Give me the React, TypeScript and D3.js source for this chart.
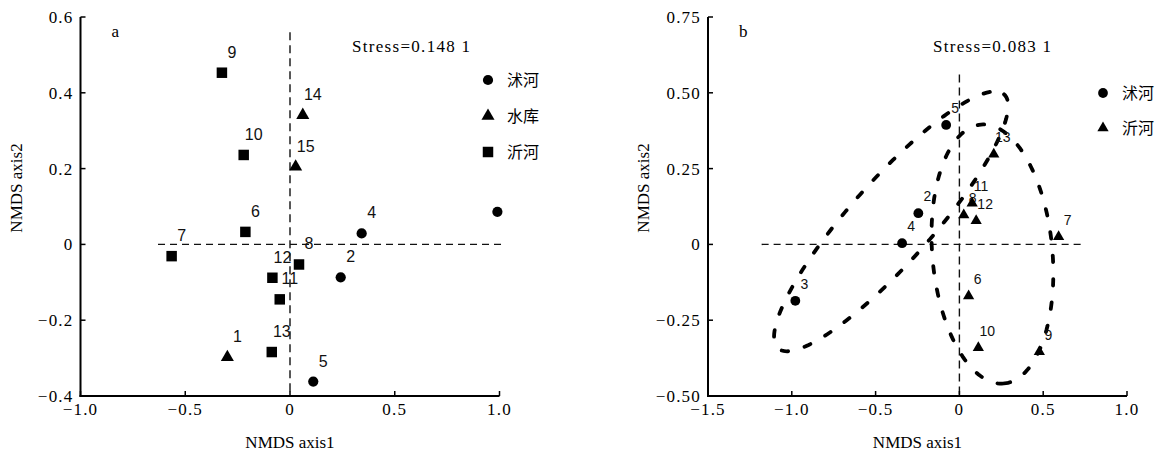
import React from 'react'
import * as d3 from 'd3'

// ---- panel a ----
const siteA = ['', '4', '2', '5', '1', '14', '15', '9', '10', '6', '7', '8', '12', '11', '13']
const groupA = ['沭河', '沭河', '沭河', '沭河', '水库', '水库', '水库', '沂河', '沂河', '沂河', '沂河', '沂河', '沂河', '沂河', '沂河']
const axis1A = [0.99, 0.342, 0.242, 0.111, -0.299, 0.061, 0.027, -0.325, -0.221, -0.213, -0.565, 0.043, -0.084, -0.049, -0.087]
const axis2A = [0.086, 0.029, -0.087, -0.362, -0.298, 0.341, 0.205, 0.453, 0.236, 0.033, -0.031, -0.053, -0.088, -0.145, -0.284]
const xTicksA = [-1, -0.5, 0, 0.5, 1]
const xTickLabelsA = ['−1.0', '−0.5', '0', '0.5', '1.0']
const yTicksA = [-0.4, -0.2, 0, 0.2, 0.4, 0.6]
const yTickLabelsA = ['−0.4', '−0.2', '0', '0.2', '0.4', '0.6']
const legendA = ['沭河', '水库', '沂河']

// ---- panel b ----
const siteB = ['2', '3', '4', '5', '6', '7', '8', '9', '10', '11', '12', '13']
const groupB = ['沭河', '沭河', '沭河', '沭河', '沂河', '沂河', '沂河', '沂河', '沂河', '沂河', '沂河', '沂河']
const axis1B = [-0.245, -0.979, -0.342, -0.079, 0.055, 0.592, 0.026, 0.477, 0.113, 0.076, 0.1, 0.205]
const axis2B = [0.103, -0.186, 0.004, 0.394, -0.17, 0.025, 0.097, -0.354, -0.341, 0.136, 0.078, 0.297]
const xTicksB = [-1.5, -1, -0.5, 0, 0.5, 1]
const xTickLabelsB = ['−1.5', '−1.0', '−0.5', '0', '0.5', '1.0']
const yTicksB = [-0.5, -0.25, 0, 0.25, 0.5, 0.75]
const yTickLabelsB = ['−0.50', '−0.25', '0', '0.25', '0.50', '0.75']
const legendB = ['沭河', '沂河']

// group ellipses in panel b (data units): centre + two semi-axis vectors
const ellCx = [-0.4075, 0.197]
const ellCy = [0.076, -0.0317]
const ellA = [[0.674, 0.419], [0.068, -0.427]]
const ellB = [[0.183, -0.0897], [0.357, 0.0175]]

const SHAPES: Record<string, d3.SymbolType> = {
  '沭河': d3.symbolCircle,
  '水库': d3.symbolTriangle,
  '沂河': d3.symbolSquare,
}

const SERIF = '"Liberation Serif", "DejaVu Serif", serif'
const SANS = '"Liberation Sans", Arial, sans-serif'
const CJK = '"Noto Sans CJK SC", sans-serif'

function symbolPath(group: string, shapes: Record<string, d3.SymbolType>, small: boolean) {
  const type = shapes[group]
  let size = 80
  if (type === d3.symbolTriangle) size = small ? 55 : 74
  if (type === d3.symbolSquare) size = 110
  if (type === d3.symbolCircle) size = small ? 75 : 82
  return d3.symbol(type, size)() as string
}

function Panel(props: any) {
  const {
    left, right, top, bottom, xDomain, yDomain, xTicks, xTickLabels, yTicks, yTickLabels,
    sites, groups, xs, ys, shapes, legend, legendX, legendY, legendStep, tag, stress, stressX,
    hLine, vLine, labelDx, labelDy, labelSize, small, yTitleX, ellipses,
  } = props

  const x = d3.scaleLinear().domain(xDomain).range([left, right])
  const y = d3.scaleLinear().domain(yDomain).range([bottom, top])

  const line = d3.line<[number, number]>().curve(d3.curveLinearClosed)
  const ellPaths = (ellipses || []).map((e: any) => {
    const pts: [number, number][] = d3.range(0, Math.PI * 2, Math.PI / 90).map((t) => [
      x(e.cx + e.a[0] * Math.cos(t) + e.b[0] * Math.sin(t)),
      y(e.cy + e.a[1] * Math.cos(t) + e.b[1] * Math.sin(t)),
    ])
    return line(pts)
  })

  return (
    <g>
      {/* reference lines */}
      <line x1={x(hLine[0])} x2={x(hLine[1])} y1={y(0)} y2={y(0)}
        stroke="#111" strokeWidth={1.4} strokeDasharray="7 5" />
      <line x1={x(0)} x2={x(0)} y1={y(vLine[0])} y2={y(vLine[1])}
        stroke="#111" strokeWidth={1.4} strokeDasharray="8 5" />

      {ellPaths.map((d: string, i: number) => (
        <path key={i} d={d} fill="none" stroke="#000" strokeWidth={3.8}
          strokeDasharray="6.5 17" strokeLinecap="round" />
      ))}

      {/* axes */}
      <line x1={left} x2={left} y1={top} y2={bottom + 1} stroke="#000" strokeWidth={2} />
      <line x1={left - 1} x2={right} y1={bottom} y2={bottom} stroke="#000" strokeWidth={2} />
      {yTicks.map((t: number, i: number) => (
        <g key={'y' + i}>
          <line x1={left} x2={left + 5} y1={y(t)} y2={y(t)} stroke="#000" strokeWidth={1.5} />
          <text x={left - 7} y={y(t)} dy="0.35em" textAnchor="end" fontFamily={SERIF}
            fontSize={17} letterSpacing={1.2}>{yTickLabels[i]}</text>
        </g>
      ))}
      {xTicks.map((t: number, i: number) => (
        <g key={'x' + i}>
          <line x1={x(t)} x2={x(t)} y1={bottom} y2={bottom - 5} stroke="#000" strokeWidth={1.5} />
          <text x={x(t)} y={bottom + 19} textAnchor="middle" fontFamily={SERIF}
            fontSize={17} letterSpacing={1.2}>{xTickLabels[i]}</text>
        </g>
      ))}
      <text x={(left + right) / 2} y={448} textAnchor="middle" fontFamily={SERIF} fontSize={17}>
        NMDS axis1
      </text>
      <text transform={`translate(${yTitleX},188) rotate(-90)`} textAnchor="middle" dy="0.35em"
        fontFamily={SERIF} fontSize={17}>NMDS axis2</text>

      <text x={left + 31} y={37} fontFamily={SERIF} fontSize={17}>{tag}</text>
      <text x={stressX} y={52} fontFamily={SERIF} fontSize={17} letterSpacing={1.3}>{stress}</text>

      {/* points */}
      {sites.map((s: string, i: number) => (
        <g key={'p' + i}>
          <path d={symbolPath(groups[i], shapes, small)}
            transform={`translate(${x(xs[i])},${y(ys[i])})`} fill="#000" />
          {s && (
            <text x={x(xs[i]) + labelDx} y={y(ys[i]) + labelDy} textAnchor="middle"
              fontFamily={SANS} fontSize={labelSize} fill="#111">{s}</text>
          )}
        </g>
      ))}

      {/* legend */}
      {legend.map((g: string, i: number) => (
        <g key={'l' + i} transform={`translate(${legendX},${legendY + i * legendStep})`}>
          <path d={symbolPath(g, shapes, small)} fill="#000" />
          <text x={19} dy="0.36em" fontFamily={CJK} fontSize={16}>{g}</text>
        </g>
      ))}
    </g>
  )
}

export default function App() {
  const ellipses = ellCx.map((cx, i) => ({ cx, cy: ellCy[i], a: ellA[i], b: ellB[i] }))
  const shapesB: Record<string, d3.SymbolType> = { '沭河': d3.symbolCircle, '沂河': d3.symbolTriangle }
  return (
    <div style={{ position: 'absolute', left: 0, top: 0 }}>
      <svg width={1168} height={453} style={{ display: 'block', background: '#fff' }}>
        <Panel
          left={80.5} right={499.5} top={17} bottom={396}
          xDomain={[-1, 1]} yDomain={[-0.4, 0.6]}
          xTicks={xTicksA} xTickLabels={xTickLabelsA} yTicks={yTicksA} yTickLabels={yTickLabelsA}
          sites={siteA} groups={groupA} xs={axis1A} ys={axis2A} shapes={SHAPES}
          legend={legendA} legendX={488} legendY={80} legendStep={36}
          tag="a" stress="Stress=0.148 1" stressX={352}
          hLine={[-0.63, 1.02]} vLine={[0.56, -0.39]}
          labelDx={10} labelDy={-15} labelSize={16} small={false} yTitleX={16}
        />
        <Panel
          left={708} right={1127} top={17} bottom={396}
          xDomain={[-1.5, 1]} yDomain={[-0.5, 0.75]}
          xTicks={xTicksB} xTickLabels={xTickLabelsB} yTicks={yTicksB} yTickLabels={yTickLabelsB}
          sites={siteB} groups={groupB} xs={axis1B} ys={axis2B} shapes={shapesB}
          legend={legendB} legendX={1103} legendY={93} legendStep={35}
          tag="b" stress="Stress=0.083 1" stressX={933}
          hLine={[-1.18, 0.73]} vLine={[0.56, -0.5]}
          labelDx={9} labelDy={-12} labelSize={14} small={true} yTitleX={643}
          ellipses={ellipses}
        />
      </svg>
    </div>
  )
}
